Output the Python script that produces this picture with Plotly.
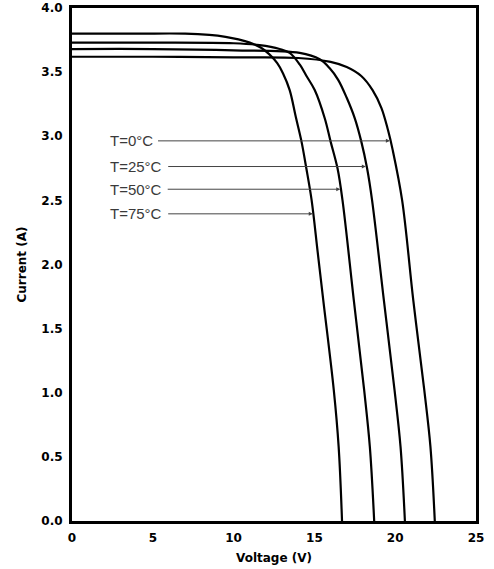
import plotly.graph_objects as go

# I-V curves (Voltage V, Current A)
v_t0 = [0, 5, 10, 14, 16.0, 17.0, 17.9, 18.6, 19.15, 19.55, 19.85, 20.43, 21.12, 21.8, 22.18, 22.45]
i_t0 = [3.62, 3.62, 3.615, 3.61, 3.58, 3.54, 3.47, 3.36, 3.22, 3.05, 2.89, 2.50, 1.72, 1.02, 0.58, 0.0]

v_t25 = [0, 5, 10, 14.09, 15.33, 15.95, 16.47, 17.0, 17.5, 17.9, 18.26, 18.57, 19.3, 19.96, 20.33, 20.6]
i_t25 = [3.68, 3.68, 3.67, 3.65, 3.60, 3.53, 3.44, 3.30, 3.14, 2.96, 2.75, 2.50, 1.72, 1.02, 0.58, 0.0]

v_t50 = [0, 5, 10, 11.61, 12.85, 13.47, 14.09, 14.51, 15.02, 15.64, 16.0, 16.43, 16.74, 17.44, 18.08, 18.43, 18.7]
i_t50 = [3.73, 3.73, 3.725, 3.71, 3.68, 3.65, 3.56, 3.47, 3.36, 3.14, 2.96, 2.75, 2.50, 1.72, 1.02, 0.58, 0.0]

v_t75 = [0, 4, 7, 8.5, 9.5, 10.3, 11.0, 11.7, 12.2, 12.7, 13.06, 13.47, 13.85, 14.2, 14.5, 14.83, 15.2, 15.55, 16.2, 16.5, 16.71]
i_t75 = [3.80, 3.80, 3.80, 3.79, 3.775, 3.755, 3.73, 3.69, 3.64, 3.57, 3.49, 3.36, 3.15, 2.96, 2.75, 2.50, 2.10, 1.72, 1.02, 0.58, 0.0]

# Labels with arrow targets
labels = ["T=0°C", "T=25°C", "T=50°C", "T=75°C"]
label_x = [2.2, 2.2, 2.2, 2.2]
label_y = [2.964, 2.764, 2.587, 2.395]
arrow_tail_x = [5.23, 5.86, 5.83, 5.86]
arrow_head_x = [19.67, 18.18, 16.6, 14.9]

x_ticks = [0, 5, 10, 15, 20, 25]
y_ticks = [0.0, 0.5, 1.0, 1.5, 2.0, 2.5, 3.0, 3.5, 4.0]

fig = go.Figure()
for vx, iy, name in [(v_t0, i_t0, "T=0°C"), (v_t25, i_t25, "T=25°C"),
                     (v_t50, i_t50, "T=50°C"), (v_t75, i_t75, "T=75°C")]:
    fig.add_trace(go.Scatter(x=vx, y=iy, mode="lines", name=name,
                             line=dict(color="black", width=2.2, shape="spline", smoothing=1.0),
                             showlegend=False, hoverinfo="skip"))

annotations = []
for txt, lx, ly, tx, hx in zip(labels, label_x, label_y, arrow_tail_x, arrow_head_x):
    annotations.append(dict(x=lx, y=ly, xref="x", yref="y", text=txt, showarrow=False,
                            xanchor="left", yanchor="middle",
                            font=dict(family="Liberation Sans, Arial", size=15, color="#3a3a3a")))
    annotations.append(dict(x=hx, y=ly, ax=tx, ay=ly, xref="x", yref="y", axref="x", ayref="y",
                            text="", showarrow=True, arrowhead=2, arrowsize=0.8, arrowwidth=1,
                            arrowcolor="#444444", standoff=0, startstandoff=0))

tickfont = dict(family="DejaVu Sans", size=12, color="black", weight="bold")
titlefont = dict(family="DejaVu Sans", size=12, color="black", weight="bold")
fig.update_layout(
    width=494, height=569,
    margin=dict(l=72, r=18, t=8, b=48),
    paper_bgcolor="white", plot_bgcolor="white",
    annotations=annotations,
    xaxis=dict(range=[0, 25], tickvals=x_ticks, ticktext=[str(t) for t in x_ticks],
               showgrid=False, zeroline=False, showline=True, linecolor="black", linewidth=3,
               mirror=True, ticks="", tickfont=tickfont, ticklabelstandoff=4, automargin=False,
               title=dict(text="Voltage (V)", font=titlefont, standoff=10)),
    yaxis=dict(range=[0, 4], tickvals=y_ticks, ticktext=[f"{t:.1f}" for t in y_ticks],
               showgrid=False, zeroline=False, showline=True, linecolor="black", linewidth=3,
               mirror=True, ticks="", tickfont=tickfont, ticklabelstandoff=4, automargin=False,
               title=dict(text="Current (A)", font=titlefont, standoff=13)),
)
fig.write_html("out.html", config={"displayModeBar": False},
               post_script="document.body.style.margin='0';")
